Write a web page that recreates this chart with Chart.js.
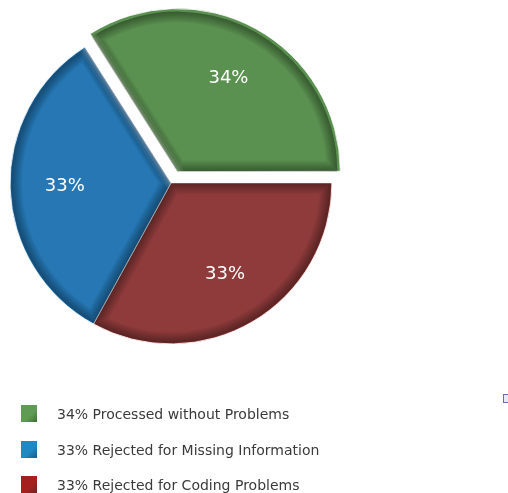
<!DOCTYPE html>
<html>
<head>
<meta charset="utf-8">
<script src="https://cdn.jsdelivr.net/npm/chart.js@4"></script>
<style>
  html, body { margin: 0; padding: 0; background: #fff; }
  #wrap { position: relative; width: 508px; height: 493px; overflow: hidden; }
  #legend { position: absolute; left: 21px; top: 404px; font-family: "DejaVu Sans", Verdana, sans-serif; font-size: 14px; color: #3a3a3a; }
  .item { height: 35.5px; display: flex; align-items: flex-start; }
  .sw { width: 16px; height: 17px; margin-right: 20px; margin-top: 1px; }
  .txt { line-height: 20px; }
  #mark { position: absolute; left: 503px; top: 394px; width: 6px; height: 7px; border: 1px solid #6a6ab8; background: #e8e8f6; }
</style>
</head>
<body>
<div id="wrap">
  <canvas id="pieChart" width="508" height="493"></canvas>
  <div id="legend"></div>
  <div id="mark"></div>
</div>
<script>
// Dados
const categories = ['Processed without Problems', 'Rejected for Missing Information', 'Rejected for Coding Problems'];
const values = [34, 33, 33];
const colors = ['#5b9150', '#2677b3', '#8f3b3b'];
const edgeColors = ['#3f6e37', '#17578a', '#6a2626'];
const swatchColors = ['#5f9b54', '#2088c2', '#a61f1f'];
// ordem das fatias no sentido horário (verde, vermelho, azul)
const drawOrder = [0, 2, 1];
// borda que recebe brilho: 'start', 'end' ou nenhuma
const shine = ['start', 'end', null];

// Legenda
const legend = document.getElementById('legend');
categories.forEach(function (name, i) {
  const item = document.createElement('div');
  item.className = 'item';
  item.innerHTML = '<div class="sw" style="background:linear-gradient(135deg,' + swatchColors[i] + ' 0%,' + swatchColors[i] + ' 60%,' + edgeColors[i] + ' 100%)"></div>' +
    '<div class="txt">' + values[i] + '% ' + name + '</div>';
  legend.appendChild(item);
});

// Bordas com efeito de relevo + rótulos de percentual
const bevelLabels = {
  id: 'bevelLabels',
  afterDatasetsDraw(chart) {
    const ctx = chart.ctx;
    const meta = chart.getDatasetMeta(0);
    meta.data.forEach(function (arc, k) {
      const p = arc.getProps(['x', 'y', 'startAngle', 'endAngle', 'outerRadius'], true);
      const mid = (p.startAngle + p.endAngle) / 2;
      const d = (arc.options.offset || 0) / 4;
      const cx = p.x + Math.cos(mid) * d;
      const cy = p.y + Math.sin(mid) * d;
      const R = p.outerRadius - 1;
      ctx.save();
      ctx.beginPath();
      ctx.moveTo(cx, cy);
      ctx.arc(cx, cy, R, p.startAngle, p.endAngle);
      ctx.closePath();
      ctx.clip();
      ctx.lineJoin = 'round';
      for (let w = 22; w >= 2; w -= 2) {
        ctx.lineWidth = w;
        ctx.strokeStyle = 'rgba(0,0,0,0.035)';
        ctx.stroke();
      }
      const edge = shine[drawOrder[k]];
      if (edge) {
        const a = edge === 'start' ? p.startAngle : p.endAngle;
        ctx.beginPath();
        ctx.moveTo(cx, cy);
        ctx.lineTo(cx + Math.cos(a) * R, cy + Math.sin(a) * R);
        ctx.lineCap = 'round';
        [[12, 'rgba(255,255,255,0.08)'], [7, 'rgba(255,255,255,0.12)'], [3, 'rgba(255,255,255,0.18)']].forEach(function (s) {
          ctx.lineWidth = s[0];
          ctx.strokeStyle = s[1];
          ctx.stroke();
        });
      }
      ctx.restore();
    });

    ctx.save();
    ctx.fillStyle = '#ffffff';
    ctx.font = '18px "DejaVu Sans", sans-serif';
    ctx.textAlign = 'center';
    ctx.textBaseline = 'middle';
    meta.data.forEach(function (arc, k) {
      const p = arc.getProps(['x', 'y', 'startAngle', 'endAngle', 'outerRadius'], true);
      const mid = (p.startAngle + p.endAngle) / 2;
      const r = p.outerRadius * 0.66 + (arc.options.offset || 0) / 4;
      ctx.fillText(values[drawOrder[k]] + '%', p.x + Math.cos(mid) * r, p.y + Math.sin(mid) * r);
    });
    ctx.restore();
  }
};

const ctxPie = document.getElementById('pieChart').getContext('2d');
const pieChart = new Chart(ctxPie, {
  type: 'pie',
  data: {
    labels: drawOrder.map(i => categories[i]),
    datasets: [{
      data: drawOrder.map(i => values[i]),
      backgroundColor: drawOrder.map(i => colors[i]),
      borderColor: 'rgba(255,255,255,0.8)',
      borderWidth: 1,
      offset: [52, 0, 0]
    }]
  },
  options: {
    responsive: false,
    animation: false,
    rotation: -32.4,
    radius: 161,
    layout: { padding: { left: 0, top: 0, right: 166, bottom: 127 } },
    plugins: {
      legend: { display: false },
      tooltip: { enabled: false }
    }
  },
  plugins: [bevelLabels]
});
</script>
</body>
</html>
